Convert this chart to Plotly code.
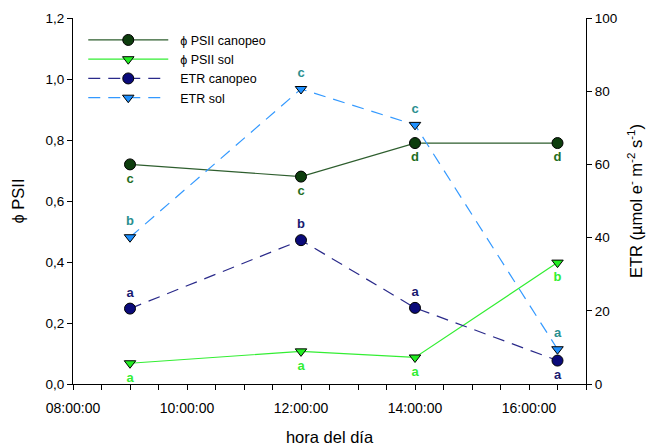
import plotly.graph_objects as go

times = ["2024-01-01 09:00:00", "2024-01-01 12:00:00", "2024-01-01 14:00:00", "2024-01-01 16:30:00"]
psii_canopeo = [0.72, 0.68, 0.79, 0.79]
psii_sol = [0.068, 0.107, 0.087, 0.398]
etr_canopeo = [20.6, 39.3, 20.8, 6.4]
etr_sol = [40.1, 80.6, 70.8, 9.5]

lab_psii_canopeo = ["c", "c", "d", "d"]
lab_psii_sol = ["a", "a", "a", "b"]
lab_etr_canopeo = ["a", "b", "a", "a"]
lab_etr_sol = ["b", "c", "c", "a"]

pos_psii_canopeo = ["bottom center"] * 4
pos_psii_sol = ["bottom center"] * 4
pos_etr_canopeo = ["top center", "top center", "top center", "bottom center"]
pos_etr_sol = ["top center"] * 4

FONT = "Liberation Sans, Arial, sans-serif"
NB = "\u00a0\u00a0"

fig = go.Figure()

def series(name, x, y, yaxis, line_color, dash, symbol, mcolor):
    fig.add_trace(go.Scatter(
        x=x, y=y, name=NB + name, yaxis=yaxis, mode="lines+markers",
        line=dict(color=line_color, width=1.2, dash=dash),
        marker=dict(symbol=symbol, size=11 if symbol == "circle" else 10,
                    color=mcolor, line=dict(color="black", width=1)),
    ))

def labels(x, y, yaxis, text, pos, color):
    fig.add_trace(go.Scatter(
        x=x, y=y, yaxis=yaxis, mode="markers+text", text=text, textposition=pos,
        marker=dict(size=12, opacity=0),
        textfont=dict(color=color, size=13, family="Liberation Sans, Arial", weight="bold"),
        showlegend=False, hoverinfo="skip",
    ))

series("ϕ PSII canopeo", times, psii_canopeo, "y", "#2e5e2e", "solid", "circle", "#0d3d0d")
series("ϕ PSII sol", times, psii_sol, "y", "#33ee33", "solid", "triangle-down", "#22ee22")
series("ETR canopeo", times, etr_canopeo, "y2", "#2a2a8a", "12px,8px", "circle", "#0a0a7a")
series("ETR sol", times, etr_sol, "y2", "#3399ff", "12px,8px", "triangle-down", "#1e90ff")

labels(times, psii_canopeo, "y", lab_psii_canopeo, pos_psii_canopeo, "#1f6e1f")
labels(times, psii_sol, "y", lab_psii_sol, pos_psii_sol, "#33ee33")
labels(times, etr_canopeo, "y2", lab_etr_canopeo, pos_etr_canopeo, "#1a1a70")
labels(times, etr_sol, "y2", lab_etr_sol, pos_etr_sol, "#2a8f8f")

fig.update_layout(
    width=654, height=446,
    margin=dict(l=73, r=68, t=18, b=62),
    paper_bgcolor="white", plot_bgcolor="white",
    font=dict(family=FONT, size=12, color="black"),
    separators=",.",
    showlegend=True,
    legend=dict(x=0.02, y=0.98, xanchor="left", yanchor="top",
                bgcolor="rgba(0,0,0,0)", itemwidth=80,
                font=dict(size=12.5), tracegroupgap=0),
    xaxis=dict(
        type="date", range=["2024-01-01 08:00:00", "2024-01-01 17:00:00"],
        tickformat="%H:%M:%S", dtick=7200000, tick0="2024-01-01 08:00:00",
        ticks="outside", ticklen=5, tickcolor="black", ticklabelstandoff=6,
        minor=dict(dtick=1800000, ticks="outside", ticklen=5, tickcolor="black"),
        showline=True, linecolor="black", linewidth=1, showgrid=False, zeroline=False,
        automargin=False,
        title=dict(text="hora del día", font=dict(size=16.5), standoff=18),
        tickfont=dict(size=14),
    ),
    yaxis=dict(
        range=[0, 1.2], dtick=0.2, tickformat=".1f",
        ticks="outside", ticklen=5, tickcolor="black",
        showline=True, linecolor="black", linewidth=1, showgrid=False, zeroline=False,
        automargin=False,
        title=dict(text="ϕ PSII", font=dict(size=16.5), standoff=16),
        tickfont=dict(size=13.5),
    ),
    yaxis2=dict(
        overlaying="y", side="right", range=[0, 100], dtick=20,
        ticks="outside", ticklen=5, tickcolor="black",
        showline=True, linecolor="black", linewidth=1, showgrid=False, zeroline=False,
        automargin=False,
        title=dict(text="ETR (µmol e<sup>-</sup> m<sup>-2</sup> s<sup>-1</sup>)", font=dict(size=16.5), standoff=14),
        tickfont=dict(size=13.5),
    ),
)

fig.write_html("out.html")
